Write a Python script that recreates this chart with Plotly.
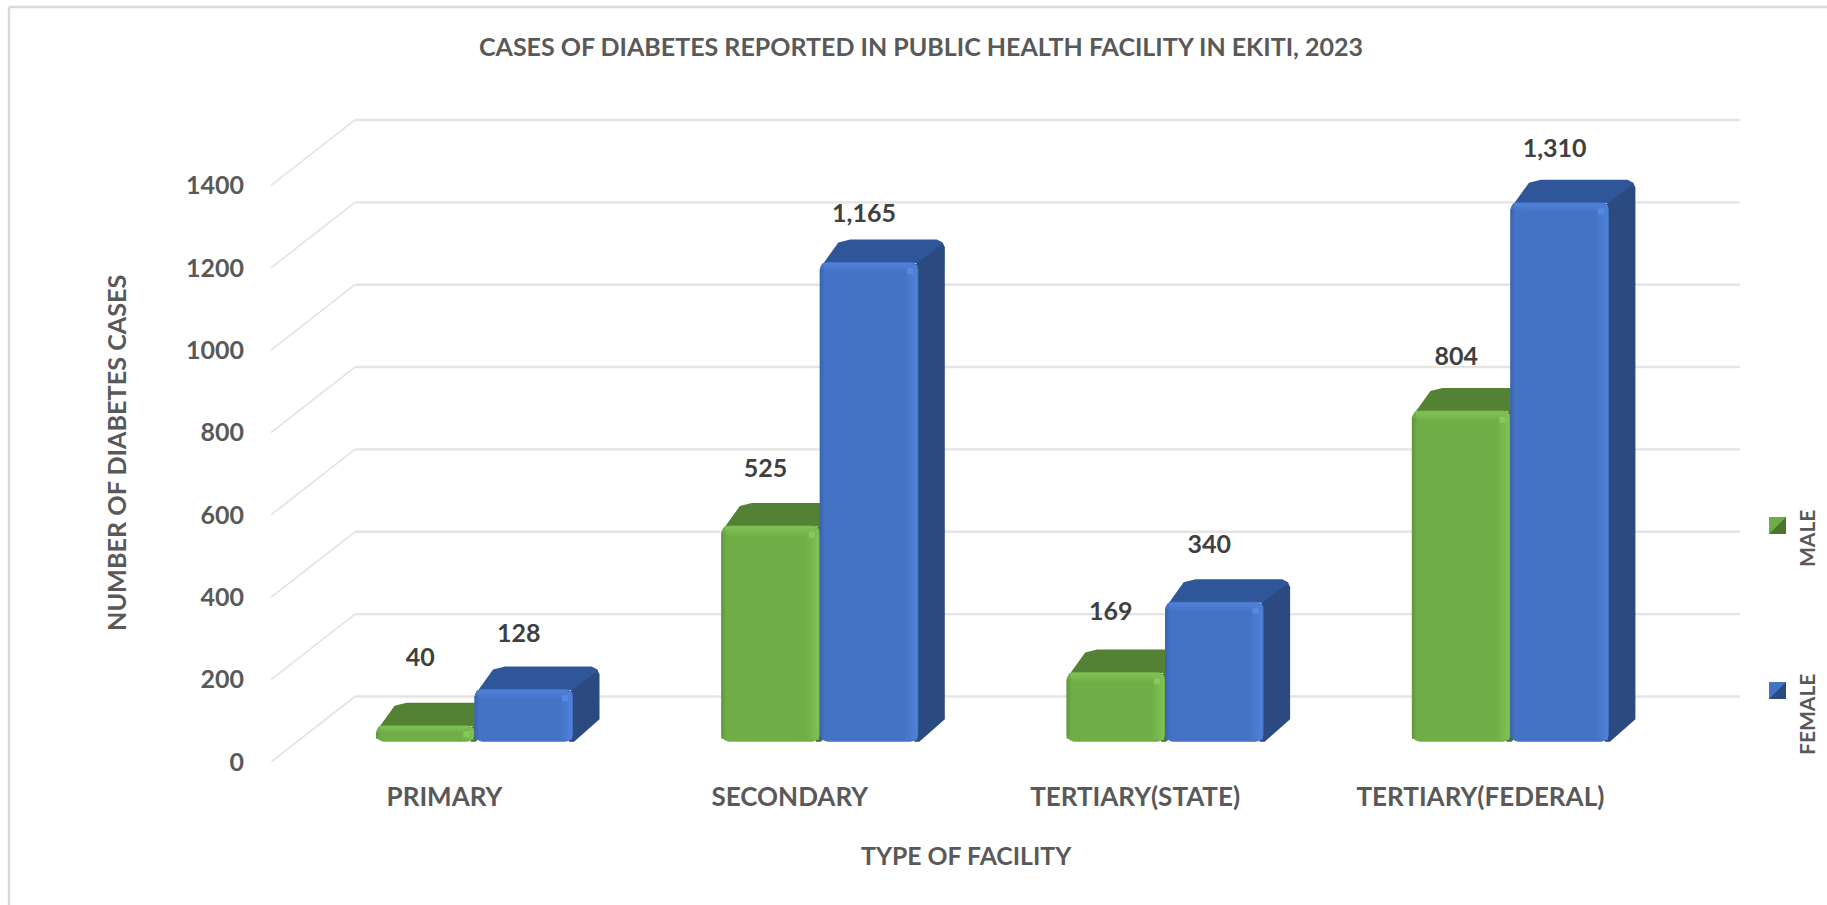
import plotly.graph_objects as go

# ---- data ----
categories = ["PRIMARY", "SECONDARY", "TERTIARY(STATE)", "TERTIARY(FEDERAL)"]
male = [40, 525, 169, 804]
female = [128, 1165, 340, 1310]
y_ticks = [0, 200, 400, 600, 800, 1000, 1200, 1400]
series_names = ["MALE", "FEMALE"]

# ---- page geometry ----
W, H = 1827, 905
L, R, T, B = 271, 1760, 100, 762      # plot rectangle in page pixels
PX_X = 345.3                          # pixels per category
PX_Y = 0.4118                         # pixels per case
CAT0 = 474.5                          # page x of first category centre
X_RANGE = [(L - CAT0) / PX_X, (R - CAT0) / PX_X]
Y_RANGE = [0, (B - T) / PX_Y]

def ux(px):  # horizontal pixels -> x units
    return px / PX_X
def uy(px):  # vertical pixels -> y units
    return px / PX_Y
def paper_x(px):
    return (px - L) / (R - L)
def paper_y(px):
    return (B - px) / (B - T)

BASE = uy(20.3)          # bars stand this far into the floor
BAR_W = ux(98.5)
DEPTH_X, DEPTH_Y = ux(26.5), uy(22.5)
WALL_X, WALL_Y = ux(84), uy(65.5)
WALL_END = ux(1740 - L)

GREY = "#595959"
FONT = "Lato"
GRID = "#E4E4E4"

STYLE = {
    "MALE": dict(front="#70AD47", light="#80C356", bright="#87C95C", dark="#5F963C",
                 top="#548235", side="#4A7530"),
    "FEMALE": dict(front="#4472C4", light="#4F82DA", bright="#5689E2", dark="#3A63AE",
                   top="#30569A", side="#2A4A80"),
}

fig = go.Figure()

# gridlines: front edge, floor diagonal, back wall
x_left = X_RANGE[0]
for v in y_ticks:
    fig.add_trace(go.Scatter(
        x=[x_left, x_left + WALL_X], y=[v, v + WALL_Y], mode="lines",
        line=dict(color="#E2E2E2", width=1.6), hoverinfo="skip", showlegend=False))
    fig.add_trace(go.Scatter(
        x=[x_left + WALL_X, x_left + WALL_END], y=[v + WALL_Y, v + WALL_Y], mode="lines",
        line=dict(color=GRID, width=2.4), hoverinfo="skip", showlegend=False))

def poly(xs, ys, color, z, grad=None):
    kw = dict(fillgradient=grad) if grad else dict(fillcolor=color)
    fig.add_trace(go.Scatter(
        x=xs + xs[:1], y=ys + ys[:1], mode="lines", fill="toself", line=dict(width=0),
        hoverinfo="skip", showlegend=False, zorder=z, **kw))

def grad(kind, c0, c1):
    return dict(type=kind, colorscale=[[0, c0], [1, c1]])

for s, (name, values) in enumerate(zip(series_names, [male, female])):
    st = STYLE[name]
    z = 1 + s * 3
    offset = -BAR_W if s == 0 else 0
    xs = list(range(len(categories)))
    fig.add_trace(go.Bar(
        x=xs, y=values, base=[BASE] * len(values), width=BAR_W, offset=offset,
        marker=dict(color=st["front"], line=dict(width=0), cornerradius=8),
        name=name, showlegend=False, zorder=z + 1,
        hovertemplate="%{fullData.name}: %{y:,}<extra></extra>"))
    for i, v in enumerate(values):
        x0 = i + offset
        x1 = x0 + BAR_W
        top = BASE + v
        # top face, behind the front face, with softened back corners
        poly([x0 + ux(1), x0 + DEPTH_X * 0.7, x0 + DEPTH_X + ux(4), x1 + DEPTH_X - ux(8), x1 + DEPTH_X - ux(2),
              x1 + DEPTH_X, x1 + ux(4), x1 - ux(2), x0 + ux(3)],
             [top - uy(5), top + DEPTH_Y - uy(3), top + DEPTH_Y, top + DEPTH_Y, top + DEPTH_Y - uy(3),
              top + DEPTH_Y - uy(8), top - uy(4), top - uy(1), top - uy(1)],
             st["top"], z)
        # right face, over the top face so no seam shows
        poly([x1 - ux(4), x1 + DEPTH_X - ux(3), x1 + DEPTH_X, x1 + DEPTH_X, x1 + ux(1), x1 - ux(4)],
             [top - uy(3), top + DEPTH_Y - uy(5), top + DEPTH_Y - uy(8), BASE + DEPTH_Y, BASE, BASE],
             st["side"], z)
        # bevels on the front face
        bev = uy(min(11, v * PX_Y * 0.45))
        sw = ux(14)
        poly([x1 - sw, x1 - ux(1), x1 - ux(1), x1 - sw],
             [BASE + uy(2), BASE + uy(2), top - uy(3), top - uy(3)], "", z + 2,
             grad("horizontal", st["front"], st["light"]))
        poly([x0 + ux(3), x1 - ux(3), x1 - sw, x0 + ux(6)],
             [top - uy(1), top - uy(1), top - bev, top - bev], "", z + 2,
             grad("vertical", st["front"], st["light"]))
        poly([x0, x0 + ux(5), x0 + ux(5), x0],
             [BASE + uy(3), BASE + uy(3), top - uy(7), top - uy(7)], "", z + 2,
             grad("horizontal", st["dark"], st["front"]))
        # spot where the bevels meet
        poly([x1 - ux(11), x1 - ux(5), x1 - ux(5), x1 - ux(11)],
             [top - uy(6), top - uy(6), top - uy(12), top - uy(12)], st["bright"], z + 2)

# data labels
lift_px = {"MALE": [65, 55, 58, 52], "FEMALE": [53, 46, 55, 51]}
for s, (name, values) in enumerate(zip(series_names, [male, female])):
    xc = [i + (-BAR_W / 2 if s == 0 else BAR_W / 2) - ux(5) for i in range(len(values))]
    yc = [BASE + v + uy(l) for v, l in zip(values, lift_px[name])]
    fig.add_trace(go.Scatter(
        x=xc, y=yc, mode="text", text=[f"{v:,}" for v in values], textposition="middle center",
        textfont=dict(family=FONT, size=25, color="#404040", weight="bold"),
        hoverinfo="skip", showlegend=False, cliponaxis=False, zorder=9))

shapes = []
# chart frame: left and top edges
shapes.append(dict(type="line", xref="paper", yref="paper",
                   x0=paper_x(9), x1=paper_x(W + 5), y0=paper_y(7), y1=paper_y(7),
                   line=dict(color="#D9D9D9", width=2.5)))
shapes.append(dict(type="line", xref="paper", yref="paper",
                   x0=paper_x(9), x1=paper_x(9), y0=paper_y(7), y1=paper_y(H + 5),
                   line=dict(color="#D9D9D9", width=2.5)))

# legend swatches (square, split along the diagonal) and rotated labels
annotations = []
legend_y = {"MALE": (525.5, 539), "FEMALE": (690.5, 715)}
for name in series_names:
    st = STYLE[name]
    cy, ty = legend_y[name]
    x0, x1, y0, y1 = 1769, 1786, cy - 8.5, cy + 8.5
    xa, xb, ya, yb = paper_x(x0), paper_x(x1), paper_y(y0), paper_y(y1)
    shapes.append(dict(type="rect", xref="paper", yref="paper", x0=xa, x1=xb, y0=ya, y1=yb,
                       fillcolor=st["front"], line=dict(width=0)))
    shapes.append(dict(type="path", xref="paper", yref="paper",
                       path=f"M {xa} {yb} L {xb} {ya} L {xb} {yb} Z",
                       fillcolor=st["side"], line=dict(width=0)))
    annotations.append(dict(text=name, xref="paper", yref="paper", x=paper_x(1806), y=paper_y(ty),
                            xanchor="center", yanchor="middle", textangle=-90, showarrow=False,
                            font=dict(family=FONT, size=21, color=GREY, weight="bold")))

# axis titles
annotations.append(dict(text="NUMBER OF DIABETES CASES", xref="paper", yref="paper",
                        x=paper_x(116), y=paper_y(453), xanchor="center", yanchor="middle",
                        textangle=-90, showarrow=False,
                        font=dict(family=FONT, size=25.2, color=GREY, weight="bold")))
annotations.append(dict(text="TYPE OF FACILITY", xref="paper", yref="paper",
                        x=paper_x(966), y=paper_y(855), xanchor="center", yanchor="middle",
                        showarrow=False, font=dict(family=FONT, size=24.8, color=GREY, weight="bold")))

fig.update_layout(
    width=W, height=H, autosize=False,
    margin=dict(l=L, r=W - R, t=T, b=H - B, pad=0),
    paper_bgcolor="white", plot_bgcolor="white",
    barmode="overlay", showlegend=False, shapes=shapes, annotations=annotations,
    title=dict(text="CASES OF DIABETES REPORTED IN PUBLIC HEALTH FACILITY IN EKITI, 2023",
               xref="container", yref="container", x=921 / W, y=1 - 47 / H,
               xanchor="center", yanchor="middle",
               font=dict(family=FONT, size=25, color=GREY, weight="bold")),
    xaxis=dict(range=X_RANGE, showgrid=False, zeroline=False, showline=False,
               tickmode="array", tickvals=[i - ux(30) for i in range(len(categories))],
               ticktext=categories, ticks="", ticklabelstandoff=17,
               tickfont=dict(family=FONT, size=26, color=GREY, weight="bold")),
    yaxis=dict(range=Y_RANGE, showgrid=False, zeroline=False, showline=False,
               tickmode="array", tickvals=y_ticks, ticktext=[str(v) for v in y_ticks],
               ticks="", ticklabelstandoff=26,
               tickfont=dict(family=FONT, size=25, color=GREY, weight="bold")),
)

fig.write_html("out.html", config=dict(displayModeBar=False),
               post_script="document.body.style.margin='0';document.documentElement.style.overflow='hidden';")
